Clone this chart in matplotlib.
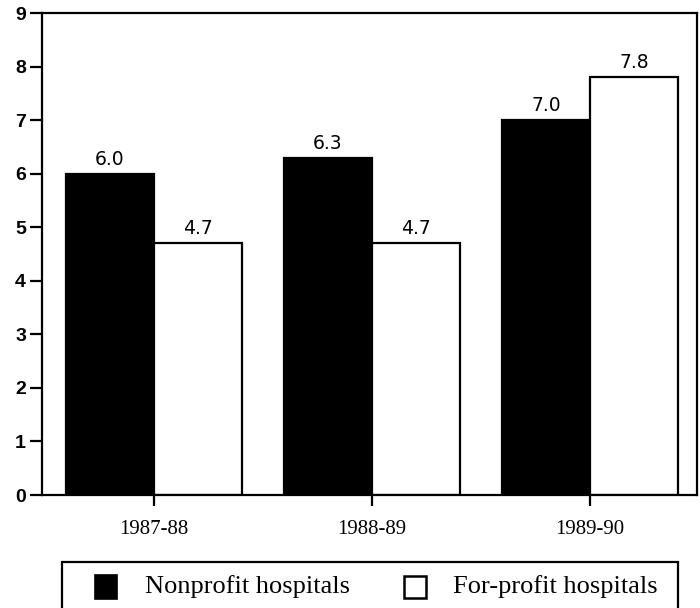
import matplotlib
matplotlib.use("Agg")
import matplotlib.pyplot as plt
from matplotlib.patches import Rectangle
import numpy as np

years = ["1987-88", "1988-89", "1989-90"]
nonprofit = [6.0, 6.3, 7.0]
forprofit = [4.7, 4.7, 7.8]
series_names = ["Nonprofit hospitals", "For-profit hospitals"]
yticks = [0, 1, 2, 3, 4, 5, 6, 7, 8, 9]

fig = plt.figure(figsize=(7.0, 6.08), dpi=100)
ax = fig.add_axes([42/700, 1-495/608, (697-42)/700, (495-13)/608])

x = np.arange(len(years))
w = 0.405
lw = 1.6
b1 = ax.bar(x - w/2, nonprofit, w, color="black", edgecolor="black", linewidth=lw)
b2 = ax.bar(x + w/2, forprofit, w, color="white", edgecolor="black", linewidth=lw)

for bars, vals in ((b1, nonprofit), (b2, forprofit)):
    for r, v in zip(bars, vals):
        ax.annotate(f"{v:.1f}", (r.get_x() + r.get_width()/2, v),
                    xytext=(0, 3.5), textcoords="offset points",
                    ha="center", va="bottom", fontsize=13.5,
                    family="DejaVu Sans")

ax.set_xlim(-0.514, 2.491)
ax.set_ylim(0, 9)
ax.set_yticks(yticks)
ax.set_yticklabels([str(t) for t in yticks], fontsize=14, fontweight="bold",
                   family="Liberation Sans")
ax.set_xticks(x)
ax.set_xticklabels(years, fontsize=15, family="Liberation Serif")
ax.tick_params(axis="y", direction="out", length=8.5, width=1.6, pad=3)
ax.tick_params(axis="x", direction="out", length=8, width=1.6, pad=10)
for s in ax.spines.values():
    s.set_linewidth(1.6)

# legend drawn as a box at the bottom
fig.patches.append(Rectangle((62/700, 1-625/608), (678-62)/700, (625-562)/608,
                             transform=fig.transFigure, facecolor="white",
                             edgecolor="black", linewidth=1.6, clip_on=False))
fig.patches.append(Rectangle((95/700, 1-599/608), 22/700, 24/608,
                             transform=fig.transFigure, facecolor="black",
                             edgecolor="black", linewidth=1.2))
fig.text(145/700, 1-587/608, series_names[0], fontsize=19,
         family="Liberation Serif", va="center", ha="left")
fig.patches.append(Rectangle((404/700, 1-598/608), 22/700, 22/608,
                             transform=fig.transFigure, facecolor="white",
                             edgecolor="black", linewidth=1.8))
fig.text(453/700, 1-587/608, series_names[1], fontsize=19,
         family="Liberation Serif", va="center", ha="left")

fig.savefig("out.png", dpi=100)
